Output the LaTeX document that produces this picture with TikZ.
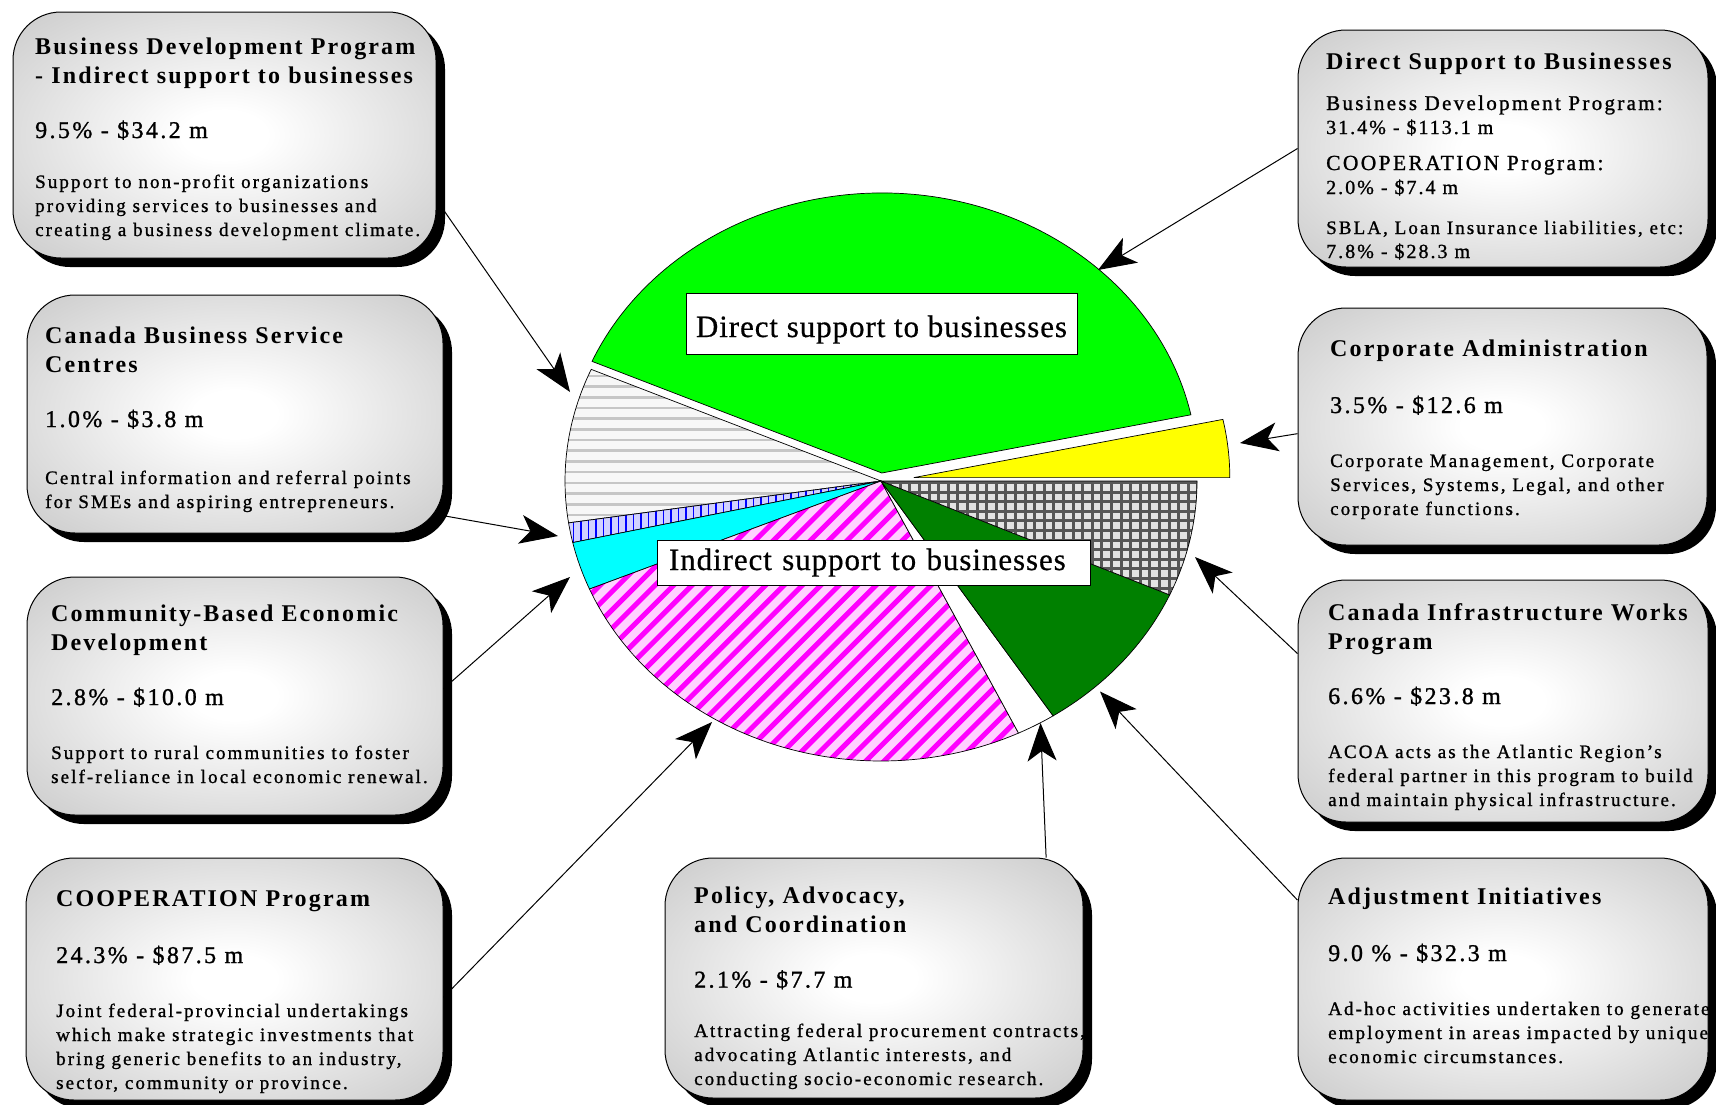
\documentclass[tikz,border=0pt]{standalone}
\usepackage{fontspec}
\setmainfont{Liberation Serif}
\newfontfamily\ttlfont[LetterSpace=9]{Liberation Serif}
\newfontfamily\pctfont[LetterSpace=10,FakeBold=1.1]{Liberation Serif}
\newfontfamily\txtfont[LetterSpace=11,FakeBold=1.1]{Liberation Serif}
\newfontfamily\piefont[LetterSpace=3,FakeBold=0.6]{Liberation Serif}
\usetikzlibrary{shapes,arrows.meta,positioning,shadows}

\definecolor{piegreen}{HTML}{00FF00}
\definecolor{pieyellow}{HTML}{FFFF00}
\definecolor{piedark}{HTML}{008000}
\definecolor{piecyan}{HTML}{00FFFF}
\definecolor{piemag}{HTML}{FF00FF}
\pgfdeclareradialshading{boxglow}{\pgfpoint{0bp}{0bp}}{color(0bp)=(white); color(5bp)=(white); color(50bp)=(black!30); color(71bp)=(black!50)}

\begin{document}
\begin{tikzpicture}[x=1pt,y=-1pt]
  \tikzset{info node/.style={rectangle, draw, line width=1pt,
		rounded corners=48pt, shading=boxglow,
		drop shadow={shadow xshift=9pt, shadow yshift=-9pt, fill=black, opacity=1}}, }
\tikzset{title text/.style={anchor=base west, inner sep=0pt, align=left,
		font=\ttlfont\bfseries\fontsize{24}{29.5}\selectfont}, }
\tikzset{amount text/.style={anchor=base west, inner sep=0pt,
		font=\pctfont\fontsize{24}{29}\selectfont}, }
\tikzset{body text/.style={anchor=base west, inner sep=0pt, align=left,
		font=\txtfont\fontsize{19}{24}\selectfont}, }
\tikzset{pie label/.style={rectangle, draw, fill=white, line width=0.8pt,
		inner ysep=0pt, font=\piefont\fontsize{31}{36}\selectfont}, }
\tikzset{slice/.style={draw=black, line width=0.7pt}, }
\tikzset{pointer/.style={-{Stealth[length=38pt, width=29pt, inset=10pt]}, line width=1pt},}
\useasboundingbox (0,0) rectangle (1716,1104);
%
% the pie
\begin{scope}[shift={(881,481)}, yscale=-1]
  \path[slice, fill=piegreen, shift={(0.8,8)}] (0,0) -- (12:316 and 280)
    arc[start angle=12, end angle=156.5, x radius=316, y radius=280] -- cycle;
  \path[slice, fill=pieyellow, shift={(32.8,3.4)}] (0,0) -- (0:316 and 280)
    arc[start angle=0, end angle=12, x radius=316, y radius=280] -- cycle;
  % horizontal stripes
  \begin{scope}
    \clip (0,0) -- (156.5:316 and 280)
      arc[start angle=156.5, end angle=188.6, x radius=316, y radius=280] -- cycle;
    \fill[gray!6] (-330,-70) rectangle (0,130);
    \foreach \h in {-66,-55.3,...,130}
      \draw[gray!45, line width=2.6pt] (-330,\h) -- (0,\h);
  \end{scope}
  \path[slice] (0,0) -- (156.5:316 and 280)
    arc[start angle=156.5, end angle=188.6, x radius=316, y radius=280] -- cycle;
  % blue lines
  \begin{scope}
    \clip (0,0) -- (188.6:316 and 280)
      arc[start angle=188.6, end angle=192.7, x radius=316, y radius=280] -- cycle;
    \fill[blue!18] (-330,-80) rectangle (0,10);
    \foreach \v in {-330,-322.5,...,0}
      \draw[blue, line width=1.6pt] (\v,-80) -- (\v,10);
  \end{scope}
  \path[slice] (0,0) -- (188.6:316 and 280)
    arc[start angle=188.6, end angle=192.7, x radius=316, y radius=280] -- cycle;
  \path[slice, fill=piecyan] (0,0) -- (192.7:316 and 280)
    arc[start angle=192.7, end angle=202.7, x radius=316, y radius=280] -- cycle;
  % magenta hatch
  \begin{scope}
    \clip (0,0) -- (202.7:316 and 280)
      arc[start angle=202.7, end angle=295.8, x radius=316, y radius=280] -- cycle;
    \fill[piemag!18] (-330,-290) rectangle (160,10);
    \foreach \s in {-900,-881.6,...,450}
      \draw[piemag, line width=5pt] (\s,-300) -- ++(600,600);
  \end{scope}
  \path[slice] (0,0) -- (202.7:316 and 280)
    arc[start angle=202.7, end angle=295.8, x radius=316, y radius=280] -- cycle;
  \path[slice, fill=white] (0,0) -- (295.8:316 and 280)
    arc[start angle=295.8, end angle=303, x radius=316, y radius=280] -- cycle;
  \path[slice, fill=piedark] (0,0) -- (303:316 and 280)
    arc[start angle=303, end angle=336, x radius=316, y radius=280] -- cycle;
  % grid
  \begin{scope}
    \clip (0,0) -- (336:316 and 280)
      arc[start angle=336, end angle=360, x radius=316, y radius=280] -- cycle;
    \fill[gray!22] (0,-130) rectangle (330,2);
    \foreach \v in {0,9.6,...,330}
      \draw[black!66, line width=3pt] (\v,-130) -- (\v,2);
    \foreach \h in {-1.5,-11.1,...,-130}
      \draw[black!66, line width=3pt] (0,\h) -- (330,\h);
  \end{scope}
  \path[slice] (0,0) -- (336:316 and 280)
    arc[start angle=336, end angle=360, x radius=316, y radius=280] -- cycle;
\end{scope}
%
\node[pie label, minimum width=391pt, text height=44pt, text depth=17pt] (10) at (881.5,323.5) {Direct support to businesses};
\node[pie label, text width=409pt, inner xsep=12pt, align=left, text height=30pt, text depth=15pt] (11) at (873.5,562.5) {Indirect support to businesses};
%
% the boxes
\node[info node, minimum width=423pt, minimum height=246pt] (1) at (224.5,135) {};
\node[info node, minimum width=416pt, minimum height=238pt] (2) at (235,414) {};
\node[info node, minimum width=416pt, minimum height=238pt] (3) at (235,696) {};
\node[info node, minimum width=417pt, minimum height=242pt] (4) at (234.5,979) {};
\node[info node, minimum width=418pt, minimum height=240pt] (5) at (874,978) {};
\node[info node, minimum width=410pt, minimum height=237pt] (6) at (1503,148.5) {};
\node[info node, minimum width=409pt, minimum height=237pt] (7) at (1502.5,426.5) {};
\node[info node, minimum width=410pt, minimum height=242pt] (8) at (1503,701) {};
\node[info node, minimum width=410pt, minimum height=242pt] (9) at (1503,979) {};
%
% texts: a node with several lines sits on the baseline of its last line
\node[title text] (1a) at (35,83.5) {Business Development Program\\- Indirect support to businesses};
\node[amount text] (1b) at (35,138) {9.5\% - \$34.2 m};
\node[body text] (1c) at (35,236) {Support to non-profit organizations\\providing services to businesses and\\creating a business development climate.};
%
\node[title text] (2a) at (45,372.5) {Canada Business Service\\Centres};
\node[amount text] (2b) at (45,427) {1.0\% - \$3.8 m};
\node[body text] (2c) at (45,508) {Central information and referral points\\for SMEs and aspiring entrepreneurs.};
%
\node[title text] (3a) at (51,650.5) {Community-Based Economic\\Development};
\node[amount text] (3b) at (51,705) {2.8\% - \$10.0 m};
\node[body text] (3c) at (51,783) {Support to rural communities to foster\\self-reliance in local economic renewal.};
%
\node[title text] (4a) at (56,906.5) {COOPERATION Program};
\node[amount text] (4b) at (56,963) {24.3\% - \$87.5 m};
\node[body text] (4c) at (56,1089) {Joint federal-provincial undertakings\\which make strategic investments that\\bring generic benefits to an industry,\\sector, community or province.};
%
\node[title text] (5a) at (694,932.5) {Policy, Advocacy,\\and Coordination};
\node[amount text] (5b) at (694,987.5) {2.1\% - \$7.7 m};
\node[body text] (5c) at (694,1085) {Attracting federal procurement contracts,\\advocating Atlantic interests, and\\conducting socio-economic research.};
%
\node[title text] (6a) at (1326,69) {Direct Support to Businesses};
\node[body text] (6b) at (1326,134) {{\fontsize{21}{24}\selectfont Business Development Program:}\\{\pctfont\fontsize{20}{24}\selectfont 31.4\% - \$113.1 m}};
\node[body text] (6c) at (1326,194) {{\fontsize{21.5}{24}\selectfont COOPERATION Program:}\\{\pctfont\fontsize{20}{24}\selectfont 2.0\% - \$7.4 m}};
\node[body text] (6d) at (1326,258) {{\fontsize{19}{24}\selectfont SBLA, Loan Insurance liabilities, etc:}\\{\pctfont\fontsize{20}{24}\selectfont 7.8\% - \$28.3 m}};
%
\node[title text] (7a) at (1330,356) {Corporate Administration};
\node[amount text] (7b) at (1330,413) {3.5\% - \$12.6 m};
\node[body text] (7c) at (1330,515) {Corporate Management, Corporate\\Services, Systems, Legal, and other\\corporate functions.};
%
\node[title text] (8a) at (1328,649.5) {Canada Infrastructure Works\\Program};
\node[amount text] (8b) at (1328,704) {6.6\% - \$23.8 m};
\node[body text] (8c) at (1328,806) {ACOA acts as the Atlantic Region’s\\federal partner in this program to build\\and maintain physical infrastructure.};
%
\node[title text] (9a) at (1328,904) {Adjustment Initiatives};
\node[amount text] (9b) at (1328,961) {9.0 \% - \$32.3 m};
\node[body text] (9c) at (1328,1063) {Ad-hoc activities undertaken to generate\\employment in areas impacted by unique\\economic circumstances.};
%
% arrow tips on the pie
\coordinate (p1) at (570,392);
\coordinate (p2) at (558,536);
\coordinate (p3) at (570,577);
\coordinate (p4) at (712,722);
\coordinate (p5) at (1040.5,723);
\coordinate (p6) at (1098,270);
\coordinate (p7) at (1240,443);
\coordinate (p8) at (1195,557);
\coordinate (p9) at (1100,691.5);
\foreach \x /\y in {1.-17/p1,2.-26/p2,3.2/p3,4.-5/p4,5.35/p5,6.west/p6,7.182/p7,8.167/p8,9.159/p9}
  \path[pointer] (\x) edge (\y);
%
\end{tikzpicture}
\end{document}
